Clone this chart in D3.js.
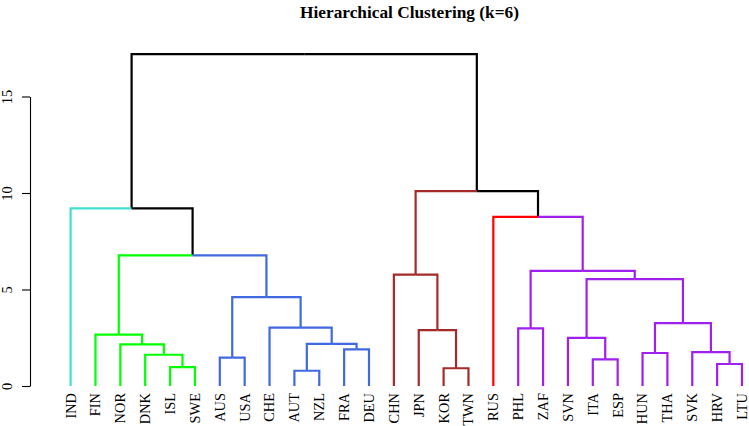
<!DOCTYPE html>
<html>
<head>
<meta charset="utf-8">
<script src="https://cdn.jsdelivr.net/npm/d3@7"></script>
<style>
  body { margin: 0; background: #fff; }
  svg text { font-family: "Liberation Serif", "Times New Roman", "DejaVu Serif", serif; }
</style>
</head>
<body>
<script>
const width = 749,
      height = 426;

// leaf order, as drawn
const labels = ["IND", "FIN", "NOR", "DNK", "ISL", "SWE", "AUS", "USA", "CHE", "AUT",
                "NZL", "FRA", "DEU", "CHN", "JPN", "KOR", "TWN", "RUS", "PHL", "ZAF",
                "SVN", "ITA", "ESP", "HUN", "THA", "SVK", "HRV", "LTU"];

// merge steps: a leaf name or "mN" = result of step N
const merges = [["AUT", "NZL"], ["KOR", "TWN"], ["ISL", "SWE"], ["HRV", "LTU"], ["ITA", "ESP"],
                ["AUS", "USA"], ["DNK", "m3"], ["HUN", "THA"], ["SVK", "m4"], ["FRA", "DEU"],
                ["NOR", "m7"], ["m1", "m10"], ["SVN", "m5"], ["FIN", "m11"], ["JPN", "m2"],
                ["PHL", "ZAF"], ["CHE", "m12"], ["m8", "m9"], ["m6", "m17"], ["m13", "m18"],
                ["CHN", "m15"], ["m16", "m20"], ["m14", "m19"], ["RUS", "m22"], ["IND", "m23"],
                ["m21", "m24"], ["m25", "m26"]];
const mergeHeights = [0.79, 0.92, 0.98, 1.14, 1.38, 1.47, 1.62, 1.71, 1.76, 1.90,
                      2.16, 2.18, 2.49, 2.66, 2.90, 2.99, 3.02, 3.26, 4.60, 5.54,
                      5.77, 5.96, 6.77, 8.76, 9.20, 10.10, 17.2];

// k = 6 cut, cluster id per leaf (same order as labels)
const clusterId = [1, 2, 2, 2, 2, 2, 3, 3, 3, 3,
                   3, 3, 3, 4, 4, 4, 4, 5, 6, 6,
                   6, 6, 6, 6, 6, 6, 6, 6];
const clusterColors = ["#40E0D0", "#00FF00", "#4169E1", "#A52A2A", "#FF0000", "#A020F0"];
const yTicks = [0, 5, 10, 15];

const svg = d3.select("body")
              .append("svg")
              .attr("width", width)
              .attr("height", height);

// build tree
var nodes = {};
labels.forEach(function(l, i) {
    nodes[l] = {name: l, h: 0, cluster: clusterId[i]};
});
merges.forEach(function(m, i) {
    nodes["m" + (i + 1)] = {name: "m" + (i + 1), h: mergeHeights[i],
                            children: [nodes[m[0]], nodes[m[1]]]};
});

const root = d3.hierarchy(nodes["m" + merges.length]);
d3.cluster().nodeSize([1, 1]).separation(() => 1)(root);

const x = d3.scaleLinear()
            .domain(d3.extent(root.leaves(), d => d.x))
            .range([70.6, 742]);
const y = d3.scaleLinear()
            .domain([0, 15])
            .range([386, 96.5]);

// colour a node if all its leaves fall in one cluster
root.eachAfter(function(d) {
    var ids = new Set(d.leaves().map(l => l.data.cluster));
    d.color = ids.size == 1 ? clusterColors[[...ids][0] - 1] : "#000";
});

svg.append("g")
   .attr("fill", "none")
   .attr("stroke-width", 2.2)
   .selectAll("path")
   .data(root.links())
   .enter()
   .append("path")
   .attr("stroke", d => d.target.color)
   .attr("d", d => "M" + x(d.source.x) + "," + y(d.source.data.h) +
                   "H" + x(d.target.x) + "V" + y(d.target.data.h));

// leaf labels
svg.append("g")
   .attr("font-size", 14.4)
   .selectAll("text")
   .data(root.leaves())
   .enter()
   .append("text")
   .attr("transform", d => "translate(" + x(d.x) + ",393)rotate(-90)")
   .attr("text-anchor", "end")
   .attr("dy", "0.34em")
   .text(d => d.data.name);

// y axis, R style
const axis = svg.append("g")
                .attr("transform", "translate(30,0)")
                .call(d3.axisLeft(y).tickValues(yTicks).tickSize(8).tickPadding(0).tickSizeOuter(0));
axis.select(".domain").attr("stroke-width", 1.1);
axis.selectAll(".tick line").attr("stroke-width", 1.1);
axis.selectAll(".tick text")
    .attr("font-size", 14.4)
    .attr("text-anchor", "middle")
    .attr("x", null)
    .attr("dy", null)
    .attr("transform", "translate(-18.5,0)rotate(-90)");

svg.append("text")
   .attr("x", 409.5)
   .attr("y", 18)
   .attr("text-anchor", "middle")
   .attr("font-size", 17.3)
   .attr("font-weight", "bold")
   .text("Hierarchical Clustering (k=6)");
</script>
</body>
</html>
